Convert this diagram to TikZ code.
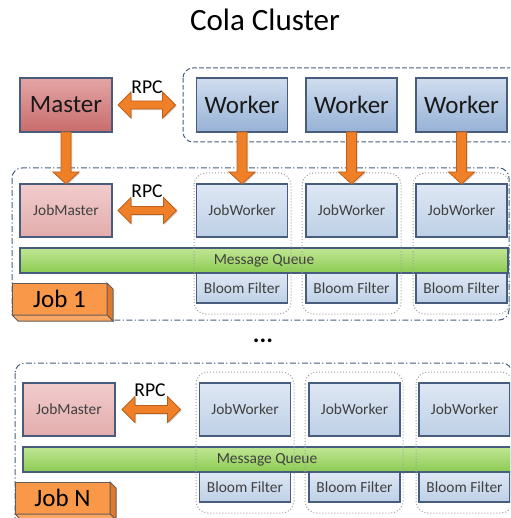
\documentclass[tikz,border=0pt]{standalone}
\usepackage{fontspec}
\setmainfont{Carlito}
\usetikzlibrary{calc,shadows}

\definecolor{boxline}{RGB}{72,93,125}
\definecolor{masterTop}{RGB}{228,165,165}
\definecolor{masterBot}{RGB}{200,108,108}
\definecolor{workerTop}{RGB}{208,221,238}
\definecolor{workerBot}{RGB}{150,178,214}
\definecolor{jmTop}{RGB}{242,204,204}
\definecolor{jmBot}{RGB}{226,172,172}
\definecolor{jwTop}{RGB}{222,231,244}
\definecolor{jwBot}{RGB}{190,208,230}
\definecolor{mqTop}{RGB}{192,230,148}
\definecolor{mqBot}{RGB}{140,203,82}
\definecolor{arrowFill}{RGB}{240,128,40}
\definecolor{arrowLine}{RGB}{190,95,25}
\definecolor{jobFront}{RGB}{248,152,72}
\definecolor{jobSide}{RGB}{222,122,46}
\definecolor{jobLine}{RGB}{105,90,85}

% thick orange arrow pointing down, from box #1 to box #2
\newcommand{\blockdown}[2]{%
  \draw[orangearrow] ($(#1.south)+(-5,0)$) -- ($(#2.north)+(-5,-12)$) -- ($(#2.north)+(-13,-12)$)
    -- (#2.north) -- ($(#2.north)+(13,-12)$) -- ($(#2.north)+(5,-12)$) -- ($(#1.south)+(5,0)$) -- cycle;}
% thick orange two-headed arrow between coordinates #1 and #2
\newcommand{\blockrpc}[2]{%
  \draw[orangearrow] (#1) -- ($(#1)+(13,-13)$) -- ($(#1)+(13,-4)$) -- ($(#2)+(-13,-4)$) -- ($(#2)+(-13,-13)$)
    -- (#2) -- ($(#2)+(-13,13)$) -- ($(#2)+(-13,4)$) -- ($(#1)+(13,4)$) -- ($(#1)+(13,13)$) -- cycle;}

\begin{document}
\begin{tikzpicture}[x=0.5pt,y=-0.5pt,
		box/.style={draw=boxline,line width=0.6pt,inner sep=0pt,outer sep=0pt,text=black!90},
		bigbox/.style={box,minimum height=27pt,font=\fontsize{12.5}{15}\selectfont},
		smallbox/.style={box,font=\fontsize{7.7}{9}\selectfont,text=black!75},
		masterbox/.style={bigbox,minimum width=46pt,top color=masterTop,bottom color=masterBot},
		workerbox/.style={bigbox,minimum width=45.5pt,top color=workerTop,bottom color=workerBot},
		jobmasterbox/.style={smallbox,minimum width=46pt,minimum height=26.5pt,top color=jmTop,bottom color=jmBot},
		jobworkerbox/.style={smallbox,minimum width=45.5pt,minimum height=26.5pt,top color=jwTop,bottom color=jwBot},
		bloombox/.style={smallbox,minimum width=45.5pt,minimum height=15pt,top color=jwTop,bottom color=jwBot},
		queuebar/.style={smallbox,minimum width=244pt,minimum height=12.5pt,top color=mqTop,bottom color=mqBot},
		rpclabel/.style={font=\fontsize{9.8}{12}\selectfont},
		joblabel/.style={draw=jobLine,line width=0.5pt,fill=jobFront,inner sep=0pt,outer sep=0pt,
			minimum width=47.5pt,minimum height=16pt,font=\fontsize{12.5}{15}\selectfont},
		jobside/.style={draw=jobLine,line width=0.5pt,fill=jobSide},
		groupline/.style={draw=boxline,line width=0.5pt,rounded corners=5pt,dash pattern=on 2.3pt off 1.2pt},
		jobline/.style={draw=boxline,line width=0.5pt,rounded corners=5pt,dash pattern=on 3pt off 1.2pt on 0.6pt off 1.2pt},
		colbox/.style={draw=gray!75,line width=0.5pt,rounded corners=6pt,dash pattern=on 0.5pt off 1pt},
		orangearrow/.style={draw=arrowLine,line width=0.4pt,fill=arrowFill,
			drop shadow={shadow xshift=0.6pt,shadow yshift=-0.6pt,opacity=0.35,fill=gray}}]
	\useasboundingbox (0,0) rectangle (510,518);
	\clip (0,0) rectangle (510,518);

	\node[font=\fontsize{15.5}{18}\selectfont] (title) at (265,20) {Cola Cluster};

	% cluster
	\draw[groupline] (183,68) rectangle (530,142);
	\node[masterbox] (master) at (66,105) {Master};
	\node[workerbox] (w1) at (242,105) {Worker};
	\node[workerbox] (w2) at (351.5,105) {Worker};
	\node[workerbox] (w3) at (461.5,105) {Worker};
	\node[rpclabel] (rpc0) at (147,87) {RPC};

	% job 1
	\draw[jobline] (12,168) rectangle (509,320);
	\node[jobmasterbox] (jm1) at (66,210.5) {JobMaster};
	\node[jobworkerbox] (jw11) at (242,210.5) {JobWorker};
	\node[jobworkerbox] (jw12) at (351.5,210.5) {JobWorker};
	\node[jobworkerbox] (jw13) at (461.5,210.5) {JobWorker};
	\node[queuebar] (mq1) at (264,260.5) {Message Queue};
	\node[bloombox] (bf11) at (242,288) {Bloom Filter};
	\node[bloombox] (bf12) at (351.5,288) {Bloom Filter};
	\node[bloombox] (bf13) at (461.5,288) {Bloom Filter};
	\draw[colbox] (194,173) rectangle (291,314);
	\draw[colbox] (302,173) rectangle (401,314);
	\draw[colbox] (413,173) rectangle (510,314);
	\node[rpclabel] (rpc1) at (147,191) {RPC};
	\node[joblabel] (job1) at (59.5,299) {Job 1};
	\draw[jobside] (job1.north east) -- ++(6,6) -- ($(job1.south east)+(6,6)$) -- (job1.south east) -- cycle;
	\draw[jobside,fill=jobFront!85!white] (job1.south west) -- (job1.south east) -- ++(6,6) -- ($(job1.south west)+(6,6)$) -- cycle;

	\node[font=\fontsize{12.5}{15}\selectfont\bfseries] (dots) at (263,341) {...};

	% job N
	\draw[jobline] (15,363) rectangle (512,540);
	\node[jobmasterbox] (jm2) at (69,409.5) {JobMaster};
	\node[jobworkerbox] (jw21) at (245,409.5) {JobWorker};
	\node[jobworkerbox] (jw22) at (354.5,409.5) {JobWorker};
	\node[jobworkerbox] (jw23) at (464.5,409.5) {JobWorker};
	\node[queuebar] (mq2) at (267,459.5) {Message Queue};
	\node[bloombox] (bf21) at (245,487) {Bloom Filter};
	\node[bloombox] (bf22) at (354.5,487) {Bloom Filter};
	\node[bloombox] (bf23) at (464.5,487) {Bloom Filter};
	\draw[colbox] (196,372) rectangle (294,513);
	\draw[colbox] (305,372) rectangle (403,513);
	\draw[colbox] (416,372) rectangle (513,513);
	\node[rpclabel] (rpc2) at (150,390) {RPC};
	\node[joblabel] (jobN) at (62.5,498) {Job N};
	\draw[jobside] (jobN.north east) -- ++(6,6) -- ($(jobN.south east)+(6,6)$) -- (jobN.south east) -- cycle;
	\draw[jobside,fill=jobFront!85!white] (jobN.south west) -- (jobN.south east) -- ++(6,6) -- ($(jobN.south west)+(6,6)$) -- cycle;

	% arrows
	\blockdown{master}{jm1}
	\blockdown{w1}{jw11}
	\blockdown{w2}{jw12}
	\blockdown{w3}{jw13}
	\coordinate (ra0) at ($(master.east)+(6,0)$);
	\coordinate (rb0) at ($(w1.west)+(-21,0)$);
	\coordinate (ra1) at ($(jm1.east)+(6,0)$);
	\coordinate (rb1) at ($(jw11.west)+(-20,0)$);
	\coordinate (ra2) at ($(jm2.east)+(7,0)$);
	\coordinate (rb2) at ($(jw21.west)+(-19,0)$);
	\blockrpc{ra0}{rb0}
	\blockrpc{ra1}{rb1}
	\blockrpc{ra2}{rb2}
\end{tikzpicture}
\end{document}
